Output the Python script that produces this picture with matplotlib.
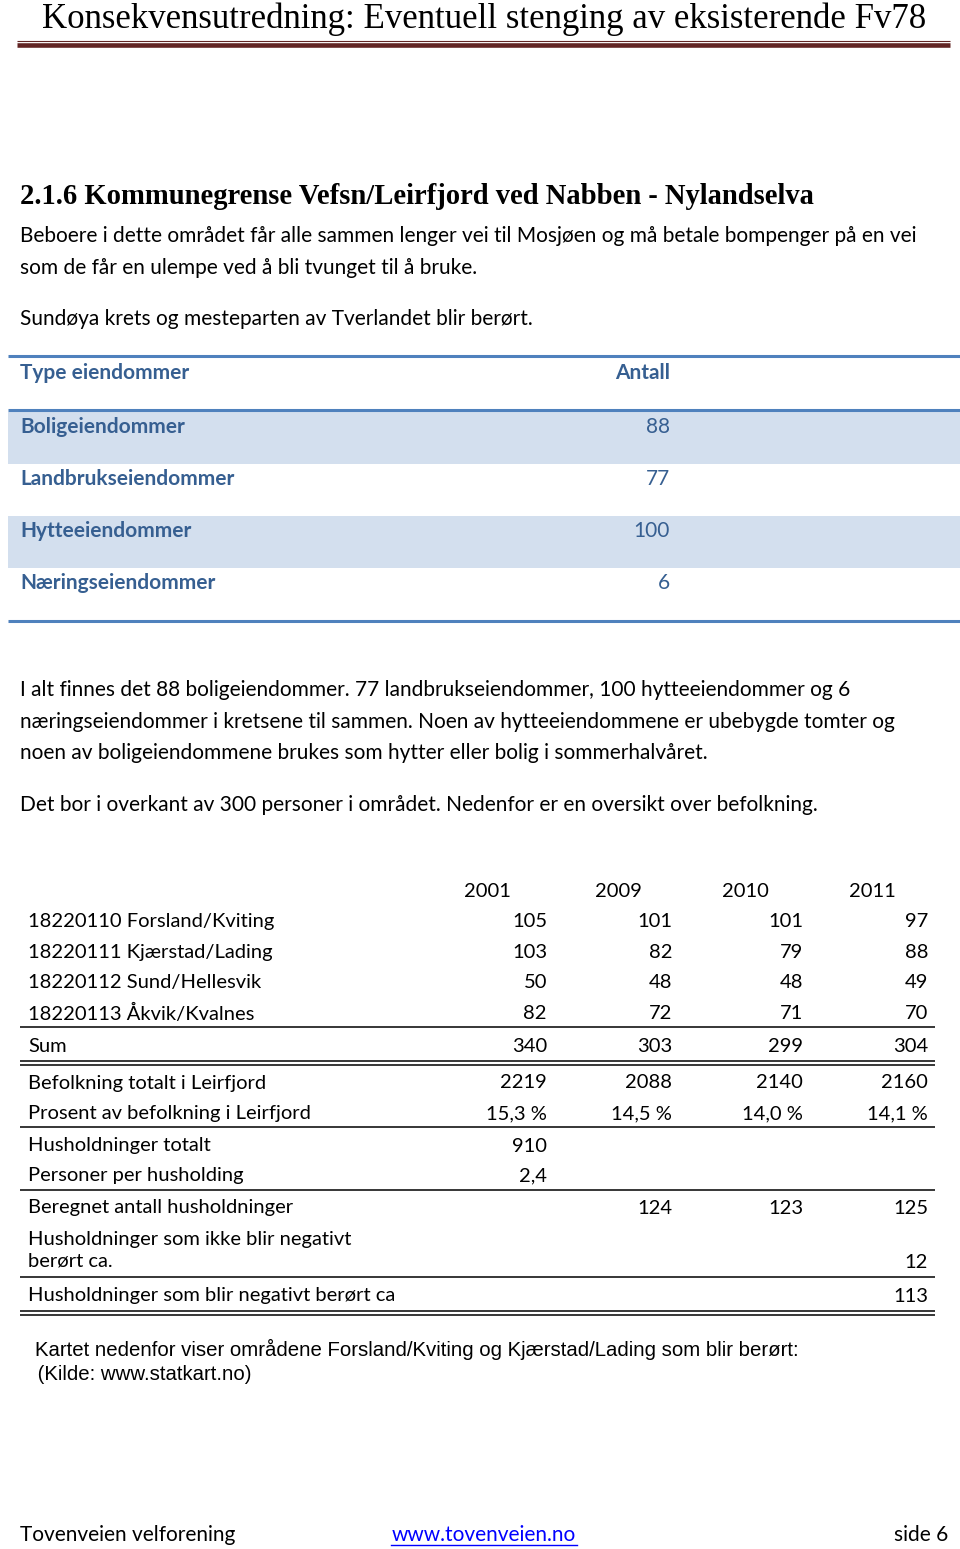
import matplotlib
matplotlib.use("Agg")
import matplotlib.pyplot as plt

# page header / text
page_title = "Konsekvensutredning: Eventuell stenging av eksisterende Fv78"
section_title = "2.1.6 Kommunegrense Vefsn/Leirfjord ved Nabben - Nylandselva"
intro_lines = ["Beboere i dette området får alle sammen lenger vei til Mosjøen og må betale bompenger på en vei",
               "som de får en ulempe ved å bli tvunget til å bruke."]
intro2 = "Sundøya krets og mesteparten av Tverlandet blir berørt."
after_lines = ["I alt finnes det 88 boligeiendommer. 77 landbrukseiendommer, 100 hytteeiendommer og 6",
               "næringseiendommer i kretsene til sammen. Noen av hytteeiendommene er ubebygde tomter og",
               "noen av boligeiendommene brukes som hytter eller bolig i sommerhalvåret."]
after2 = "Det bor i overkant av 300 personer i området. Nedenfor er en oversikt over befolkning."
map_note = ["Kartet nedenfor viser områdene Forsland/Kviting og Kjærstad/Lading som blir berørt:",
            " (Kilde: www.statkart.no)"]

# property table
prop_types = ["Boligeiendommer", "Landbrukseiendommer", "Hytteeiendommer", "Næringseiendommer"]
prop_counts = [88, 77, 100, 6]

# population table
years = ["2001", "2009", "2010", "2011"]
pop_labels = ["18220110 Forsland/Kviting", "18220111 Kjærstad/Lading", "18220112 Sund/Hellesvik",
              "18220113 Åkvik/Kvalnes", "Sum", "Befolkning totalt i Leirfjord",
              "Prosent av befolkning i Leirfjord", "Husholdninger totalt", "Personer per husholding",
              "Beregnet antall husholdninger", "Husholdninger som ikke blir negativt\nberørt ca.",
              "Husholdninger som blir negativt berørt ca"]
pop_2001 = ["105", "103", "50", "82", "340", "2219", "15,3 %", "910", "2,4", "", "", ""]
pop_2009 = ["101", "82", "48", "72", "303", "2088", "14,5 %", "", "", "124", "", ""]
pop_2010 = ["101", "79", "48", "71", "299", "2140", "14,0 %", "", "", "123", "", ""]
pop_2011 = ["97", "88", "49", "70", "304", "2160", "14,1 %", "", "", "125", "12", "113"]

BODY = "Lato"
SERIF = "Liberation Serif"
FS = 15.0
FS_TAB = 14.5
MAROON = "#622423"
BLUE_LINE = "#4f81bd"
BLUE_TEXT = "#365f91"
SHADE = "#d3dfee"

fig = plt.figure(figsize=(9.6, 15.49), dpi=100)
ax = fig.add_axes([0, 0, 1, 1])
ax.set_xlim(0, 960)
ax.set_ylim(1549, 0)
ax.axis("off")
fig.canvas.draw()
renderer = fig.canvas.get_renderer()


def fit_text(x, y, s, width, **kw):
    t = ax.text(x, y, s, **kw)
    w = t.get_window_extent(renderer).width
    t.set_fontsize(t.get_fontsize() * width / w)
    return t


# header
fit_text(42, 28, page_title, 883, family=SERIF, fontsize=20, va="baseline")
ax.plot([17, 950], [41, 41], color=MAROON, lw=0.8, solid_capstyle="butt")
ax.plot([17, 950], [45, 45], color=MAROON, lw=3.3, solid_capstyle="butt")

fit_text(20, 196, section_title, 796, family=SERIF, fontsize=17, fontweight="bold", va="center")

for i, line in enumerate(intro_lines):
    ax.text(20, 236 + 31.5 * i, line, family=BODY, fontsize=FS, va="center")
ax.text(20, 319, intro2, family=BODY, fontsize=FS, va="center")

# property table
row_h = 52
t_top = 356
ax.text(20, 373, "Type eiendommer", family=BODY, fontsize=FS, fontweight="bold", color=BLUE_TEXT, va="center")
ax.text(670, 373, "Antall", family=BODY, fontsize=FS, fontweight="bold", color=BLUE_TEXT, va="center", ha="right")
for i, (name, cnt) in enumerate(zip(prop_types, prop_counts)):
    y0 = 412 + row_h * i
    if i % 2 == 0:
        ax.fill_between([8, 960], y0, y0 + row_h, color=SHADE, lw=0)
    ax.text(20, y0 + 15, name, family=BODY, fontsize=FS, fontweight="bold", color=BLUE_TEXT, va="center")
    ax.text(670, y0 + 15, str(cnt), family=BODY, fontsize=FS, color=BLUE_TEXT, va="center", ha="right")
for y, lw in [(t_top, 2.2), (410, 2.2), (621, 2.2)]:
    ax.plot([8, 960], [y, y], color=BLUE_LINE, lw=lw, solid_capstyle="butt")

for i, line in enumerate(after_lines):
    ax.text(20, 690 + 31.5 * i, line, family=BODY, fontsize=FS, va="center")
ax.text(20, 805, after2, family=BODY, fontsize=FS, va="center")

# population table
col_right = [547, 672, 803, 928]
year_left = [464, 595, 722, 849]
row_y = [920, 951, 981, 1012, 1045, 1082, 1113, 1145, 1175, 1207, 1249, 1295]
for x, yr in zip(year_left, years):
    ax.text(x, 891, yr, family=BODY, fontsize=FS_TAB, va="center")
cols = [pop_2001, pop_2009, pop_2010, pop_2011]
for r, label in enumerate(pop_labels):
    y = row_y[r] + 1
    if "\n" in label:
        ax.text(28, y, label, family=BODY, fontsize=FS_TAB, va="center", linespacing=1.35)
        yv = y + 13
    else:
        ax.text(28, y, label, family=BODY, fontsize=FS_TAB, va="center")
        yv = y
    for x, col in zip(col_right, cols):
        if col[r]:
            ax.text(x, yv, col[r], family=BODY, fontsize=FS_TAB, va="center", ha="right")

for y in [1027, 1127, 1190, 1277]:
    ax.plot([20, 935], [y, y], color="black", lw=1.1, solid_capstyle="butt")
for y in [1061, 1311]:
    ax.plot([20, 935], [y, y], color="black", lw=1.1, solid_capstyle="butt")
    ax.plot([20, 935], [y + 3.5, y + 3.5], color="black", lw=1.1, solid_capstyle="butt")

ax.text(35, 1349, map_note[0], family="Liberation Sans", fontsize=14.7, va="center")
ax.text(32, 1375, map_note[1], family="Liberation Sans", fontsize=14.7, va="center")

# footer
ax.text(20, 1535, "Tovenveien velforening", family=BODY, fontsize=FS, va="center")
ax.text(484, 1535, "www.tovenveien.no", family=BODY, fontsize=FS, va="center", ha="center", color="#0000ff")
ax.plot([391, 577], [1545, 1545], color="#0000ff", lw=1.0)
ax.text(948, 1535, "side 6", family=BODY, fontsize=FS, va="center", ha="right")

fig.savefig("out.png", dpi=100)
